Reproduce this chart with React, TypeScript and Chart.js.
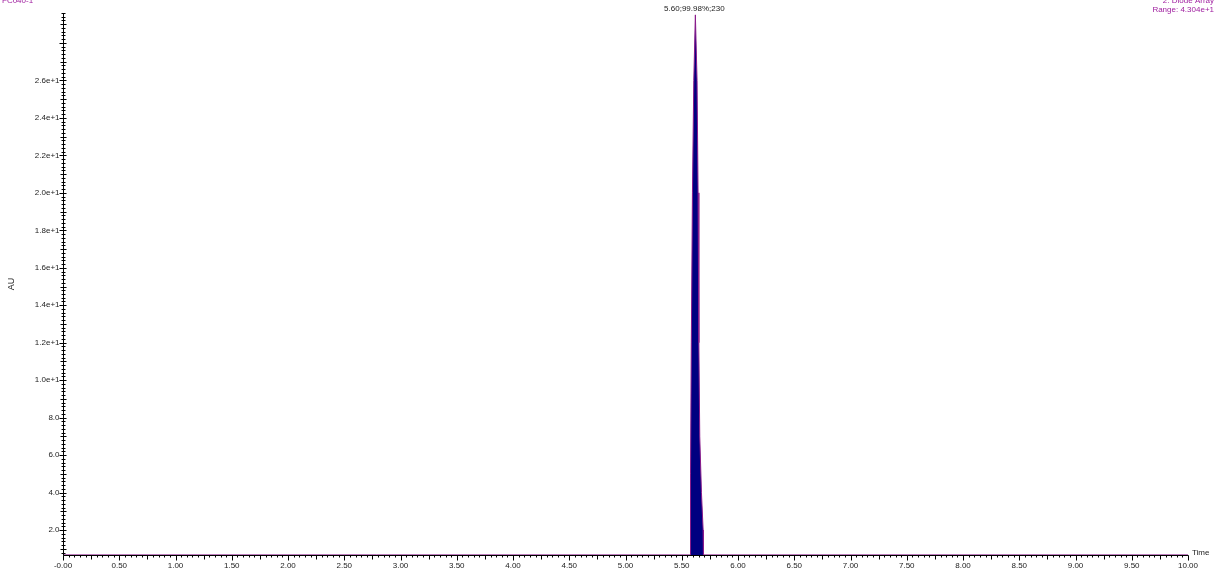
import React, { useEffect, useRef } from "react";
import { Chart, registerables } from "chart.js";

Chart.register(...registerables);

// Chromatogram (time in min, AU)
const times = [0, 5.576, 5.578, 5.585, 5.595, 5.607, 5.621, 5.636, 5.645, 5.652, 5.66, 5.675, 5.69, 5.693, 10];
const absorbance = [0.67, 0.67, 5, 12, 20, 26, 29.5, 26, 20, 12, 7, 4, 2, 0.67, 0.67];

const xTickValues = [0, 0.5, 1, 1.5, 2, 2.5, 3, 3.5, 4, 4.5, 5, 5.5, 6, 6.5, 7, 7.5, 8, 8.5, 9, 9.5, 10];
const xTickLabels = ["-0.00", "0.50", "1.00", "1.50", "2.00", "2.50", "3.00", "3.50", "4.00", "4.50", "5.00", "5.50", "6.00", "6.50", "7.00", "7.50", "8.00", "8.50", "9.00", "9.50", "10.00"];
const yTickValues = [2, 4, 6, 8, 10, 12, 14, 16, 18, 20, 22, 24, 26];
const yTickLabels = ["2.0", "4.0", "6.0", "8.0", "1.0e+1", "1.2e+1", "1.4e+1", "1.6e+1", "1.8e+1", "2.0e+1", "2.2e+1", "2.4e+1", "2.6e+1"];

const peakLabel = "5.60;99.98%;230";
const peakTime = 5.621;
const peakValue = 29.5;
const sampleName = "FC040-1";
const detectorLines = ["2: Diode Array", "Range: 4.304e+1"];

const Y_MIN = 0.667;
const Y_MAX = 29.6;

const axesPlugin = {
  id: "chromAxes",
  afterDatasetsDraw(chart: any) {
    const ctx = chart.ctx as CanvasRenderingContext2D;
    const xs = chart.scales.x;
    const ys = chart.scales.y;
    const area = chart.chartArea;
    const x0 = Math.round(area.left) + 0.5;
    const yb = Math.round(area.bottom) + 0.5;
    ctx.save();
    ctx.strokeStyle = "#000";
    ctx.lineWidth = 1;
    ctx.beginPath();
    ctx.moveTo(x0, Math.round(area.top));
    ctx.lineTo(x0, yb);
    ctx.lineTo(Math.round(area.right) + 0.5, yb);
    ctx.stroke();

    ctx.beginPath();
    for (let i = 0; i <= 200; i++) {
      const v = i * 0.05;
      const px = Math.round(xs.getPixelForValue(v)) + 0.5;
      let len = 2;
      if (i % 10 === 0) len = 5;
      else if (i % 5 === 0) len = 4;
      ctx.moveTo(px, yb);
      ctx.lineTo(px, yb + len);
    }
    ctx.stroke();

    ctx.beginPath();
    for (let i = 4; i <= 148; i++) {
      const v = i * 0.2;
      if (v < Y_MIN || v > Y_MAX) continue;
      const py = Math.round(ys.getPixelForValue(v)) + 0.5;
      let l = 2, r = 2;
      if (i % 10 === 0) { l = 4; r = 3; }
      else if (i % 5 === 0) { l = 3; r = 3; }
      ctx.moveTo(x0 - l, py);
      ctx.lineTo(x0 + r, py);
    }
    ctx.stroke();

    ctx.fillStyle = "#222";
    ctx.font = "8px 'Liberation Sans', Arial, sans-serif";
    ctx.textAlign = "center";
    ctx.textBaseline = "middle";
    xTickValues.forEach((v, i) => {
      ctx.fillText(xTickLabels[i], xs.getPixelForValue(v), 566);
    });
    ctx.textAlign = "right";
    yTickValues.forEach((v, i) => {
      ctx.fillText(yTickLabels[i], x0 - 4, ys.getPixelForValue(v));
    });
    ctx.textAlign = "left";
    ctx.fillText("Time", area.right + 4, yb - 3);
    ctx.save();
    ctx.font = "9px 'Liberation Sans', Arial, sans-serif";
    ctx.translate(12, (area.top + area.bottom) / 2);
    ctx.rotate(-Math.PI / 2);
    ctx.textAlign = "center";
    ctx.fillText("AU", 0, 0);
    ctx.restore();

    ctx.textAlign = "center";
    ctx.textBaseline = "alphabetic";
    ctx.fillText(peakLabel, xs.getPixelForValue(peakTime) - 1, ys.getPixelForValue(peakValue) - 4);

    ctx.fillStyle = "#a020a0";
    ctx.textAlign = "left";
    ctx.fillText(sampleName, 2, 3);
    ctx.textAlign = "right";
    ctx.fillText(detectorLines[0], 1214, 3);
    ctx.fillText(detectorLines[1], 1214, 12);
    ctx.restore();
  },
};

export default function App() {
  const ref = useRef<HTMLCanvasElement>(null);
  useEffect(() => {
    document.body.style.margin = "0";
    const chart = new Chart(ref.current as HTMLCanvasElement, {
      type: "line",
      data: {
        datasets: [
          {
            data: times.map((t, i) => ({ x: t, y: absorbance[i] })),
            borderColor: "#8a1a8a",
            borderWidth: 1,
            backgroundColor: "#000080",
            fill: "start",
            pointRadius: 0,
            tension: 0,
            clip: false as any,
          },
        ],
      },
      options: {
        animation: false,
        responsive: false,
        maintainAspectRatio: false,
        layout: { padding: { left: 63, right: 30, top: 13, bottom: 18 } },
        plugins: { legend: { display: false }, tooltip: { enabled: false } },
        scales: {
          x: { type: "linear", min: 0, max: 10, display: false },
          y: { type: "linear", min: Y_MIN, max: Y_MAX, display: false },
        },
      },
      plugins: [axesPlugin],
    });
    return () => chart.destroy();
  }, []);
  return (
    <div style={{ position: "fixed", left: 0, top: 0, width: 1218, height: 573, background: "#fff" }}>
      <canvas ref={ref} width={1218} height={573} style={{ width: 1218, height: 573 }} />
    </div>
  );
}
